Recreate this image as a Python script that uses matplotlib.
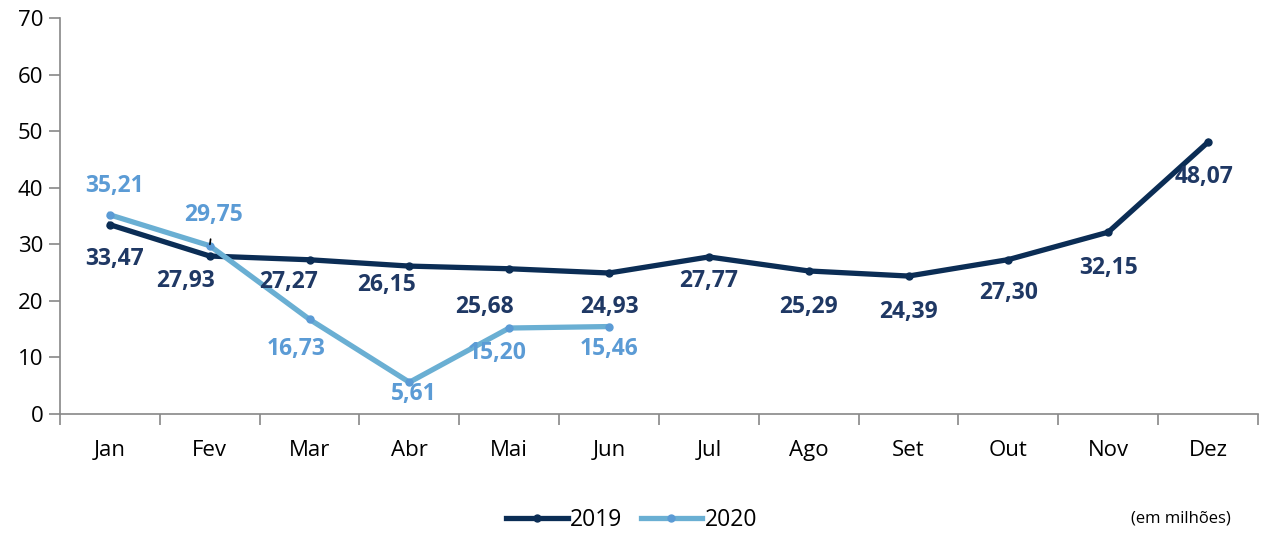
import matplotlib.pyplot as plt

# Dados
meses = ['Jan', 'Fev', 'Mar', 'Abr', 'Mai', 'Jun', 'Jul', 'Ago', 'Set', 'Out', 'Nov', 'Dez']
v2019 = [33.47, 27.93, 27.27, 26.15, 25.68, 24.93, 27.77, 25.29, 24.39, 27.30, 32.15, 48.07]
v2020 = [35.21, 29.75, 16.73, 5.61, 15.20, 15.46]

# label offsets (pixels, relative to the point)
off2019 = [(5, -34), (-24, -25), (-21, -22), (-23, -19), (-25, -38), (0, -34),
           (0, -24), (0, -36), (0, -36), (0, -33), (0, -36), (-4, -35)]
off2020 = [(5, 29), (4, 31), (-13, -30), (4, -12), (-12, -25), (0, -22)]

c2019 = '#0b2d55'
c2020 = '#6aafd3'
lab2019 = '#1f3864'
lab2020 = '#5b9bd5'

plt.rcParams['font.family'] = ['Open Sans', 'DejaVu Sans']

fig = plt.figure(figsize=(12.63, 5.33), dpi=100)
ax = fig.add_axes([0.0475, 0.2233, 0.9485, 0.7427])

x19 = list(range(len(v2019)))
x20 = list(range(len(v2020)))
ax.plot(x19, v2019, color=c2019, lw=3.8, marker='o', ms=5, label='2019', solid_joinstyle='round')
ax.plot(x20, v2020, color=c2020, lw=3.8, marker='o', ms=5, mfc='#5b9bd5', mec='#5b9bd5',
        label='2020', solid_joinstyle='round')

for i, v in enumerate(v2019):
    ax.annotate(f'{v:.2f}'.replace('.', ','), (i, v), xytext=off2019[i],
                textcoords='offset pixels', ha='center', va='center',
                fontsize=16.5, fontweight='bold', color=lab2019)

for i, v in enumerate(v2020):
    arrow = None
    if i == 1:
        arrow = dict(arrowstyle='-', color='black', lw=1.2, shrinkA=7, shrinkB=1)
    ax.annotate(f'{v:.2f}'.replace('.', ','), (i, v), xytext=off2020[i],
                textcoords='offset pixels', ha='center', va='center',
                fontsize=16.5, fontweight='bold', color=lab2020, arrowprops=arrow)

ax.set_xlim(-0.48, 11.5)
ax.set_ylim(0, 70)
ax.set_yticks(range(0, 71, 10))
ax.set_xticks([i + 0.5 for i in range(-1, 12)])
ax.set_xticklabels([])
ax.set_xticks(x19, minor=True)
ax.set_xticklabels(meses, minor=True)
ax.tick_params(axis='x', which='minor', length=0, pad=19, labelsize=16)
ax.tick_params(axis='x', which='major', length=8, color='#888888', width=1.2)
ax.tick_params(axis='y', length=8, color='#888888', width=1.2, labelsize=16, pad=4)

for s in ['top', 'right']:
    ax.spines[s].set_visible(False)
for s in ['left', 'bottom']:
    ax.spines[s].set_color('#888888')
    ax.spines[s].set_linewidth(1.2)

fig.legend(loc='center', bbox_to_anchor=(0.5, 0.025), ncol=2, frameon=False,
           fontsize=16.5, handlelength=2.7, handletextpad=0.1, columnspacing=0.8)
fig.text(0.935, 0.027, '(em milhões)', ha='center', va='center', fontsize=12)

fig.savefig('out.png', dpi=100)
